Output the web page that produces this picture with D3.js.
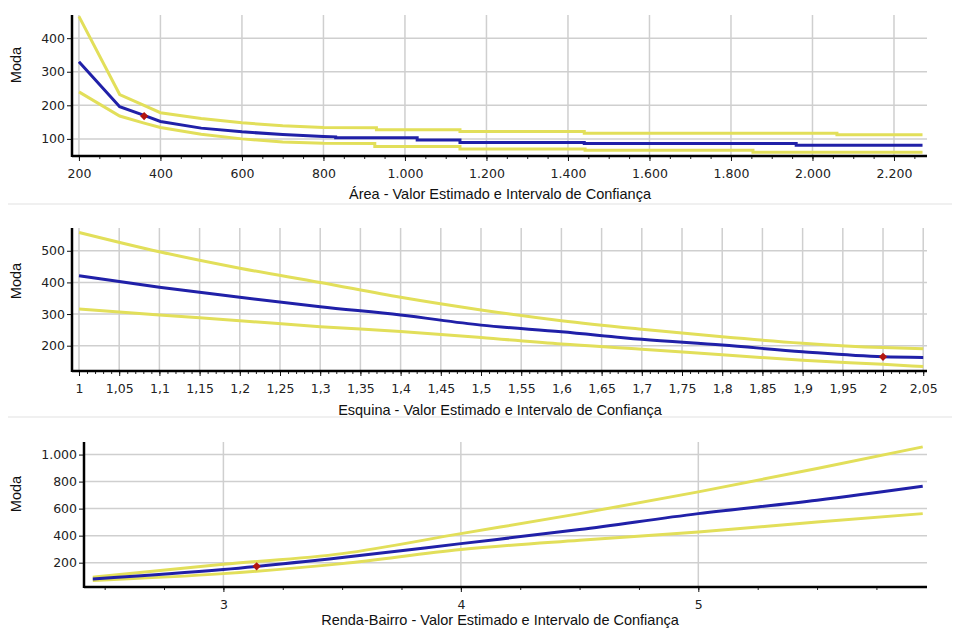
<!DOCTYPE html>
<html>
<head>
<meta charset="utf-8">
<script src="https://cdn.jsdelivr.net/npm/d3@7"></script>
<style>
  body { margin: 0; background: #fff; }
  svg { display: block; }
  .tick-label { font-family: "DejaVu Sans", sans-serif; font-size: 12.5px; fill: #222; }
  .axis-title { font-family: "Liberation Sans", Arial, sans-serif; font-size: 14.5px; fill: #111; }
</style>
</head>
<body>
<div id="chart"></div>
<script>
// Area panel (step lines)
const areaUpper = [[200,465],[300,232],[350,205],[400,178],[500,161],[600,148],[700,139],[800,134],[930,133],[930,127],[1135,127],[1135,122],[1440,122],[1440,117],[2060,117],[2060,112],[2270,112]];
const areaMid = [[200,330],[300,196],[360,170],[400,152],[500,132],[600,121],[700,113],[800,107],[830,106],[830,103],[1030,103],[1030,97],[1135,97],[1135,89],[1440,89],[1440,86],[1960,86],[1960,81],[2270,81]];
const areaLow = [[200,240],[300,168],[360,147],[400,134],[500,114],[600,100],[700,91],[800,87],[926,86],[926,77],[1135,77],[1135,70],[1442,70],[1442,66],[1854,66],[1854,60],[2270,60]];
const areaPoint = [360, 168];
const areaXTicks = d3.range(200, 2201, 200);
const areaYTicks = [100, 200, 300, 400];

// Esquina panel
const esqX = [1, 1.1, 1.2, 1.3, 1.4, 1.5, 1.6, 1.7, 1.8, 1.9, 2.0, 2.05];
const esqUpper = [558, 497, 445, 400, 353, 313, 279, 252, 228, 208, 194, 190];
const esqMid = [421, 385, 353, 323, 297, 265, 244, 220, 202, 181, 165, 163];
const esqLow = [316, 297, 279, 260, 245, 226, 205, 189, 171, 154, 141, 134];
const esqPoint = [2, 165];
const esqXTicks = d3.range(0, 22).map(i => 1 + i * 0.05);
const esqYTicks = [200, 300, 400, 500];

// Renda-Bairro panel
const rendaX = [2.45, 3, 3.5, 4, 4.5, 5, 5.5, 5.945];
const rendaUpper = [92, 188, 267, 415, 563, 724, 897, 1057];
const rendaMid = [80, 149, 238, 341, 445, 563, 662, 766];
const rendaLow = [68, 119, 193, 297, 366, 427, 501, 563];
const rendaPoint = [3.14, 173];
const rendaXTicks = [3, 4, 5];
const rendaYTicks = [200, 400, 600, 800, 1000];

const width = 960, height = 629;
const yellow = "#e2df5a", blue = "#2020a8";

const svg = d3.select("#chart").append("svg")
  .attr("width", width)
  .attr("height", height);

// light separators between the panels
[204, 417].forEach(y => {
  svg.append("line")
    .attr("x1", 8).attr("x2", 952).attr("y1", y).attr("y2", y)
    .attr("stroke", "#ebebeb").attr("stroke-width", 1.5);
});

const fmtThousand = d3.formatLocale({decimal: ",", thousands: ".", grouping: [3], currency: ["", ""]});
const fmtInt = fmtThousand.format(",d");
const fmtComma = v => String(+v.toFixed(2)).replace(".", ",");

function panel(opt) {
  const x = d3.scaleLinear().domain(opt.xDomain).range([opt.left, opt.right]);
  const y = d3.scaleLinear().domain(opt.yDomain).range([opt.bottom, opt.top]);
  const g = svg.append("g");

  // grid
  g.selectAll(".hgrid").data(opt.yTicks).join("line")
    .attr("x1", opt.left).attr("x2", opt.right)
    .attr("y1", d => y(d)).attr("y2", d => y(d))
    .attr("stroke", "#cfcfcf").attr("stroke-width", 1.5);
  g.selectAll(".vgrid").data(opt.xTicks).join("line")
    .attr("x1", d => x(d)).attr("x2", d => x(d))
    .attr("y1", opt.top).attr("y2", opt.bottom)
    .attr("stroke", "#cfcfcf").attr("stroke-width", 1.5);

  // series
  const line = d3.line().x(d => x(d[0])).y(d => y(d[1])).curve(opt.curve);
  [[opt.upper, yellow], [opt.low, yellow], [opt.mid, blue]].forEach(([s, c]) => {
    g.append("path").datum(s)
      .attr("d", line)
      .attr("fill", "none")
      .attr("stroke", c)
      .attr("stroke-width", 3);
  });

  // estimated point (small diamond)
  g.append("path")
    .attr("d", d3.symbol(d3.symbolSquare, 34)())
    .attr("transform", `translate(${x(opt.point[0])},${y(opt.point[1])}) rotate(45)`)
    .attr("fill", "#b3150f");

  // x axis
  g.append("g")
    .attr("transform", `translate(0,${opt.bottom})`)
    .call(d3.axisBottom(x).tickValues(opt.minor).tickSize(3).tickFormat(""))
    .call(a => a.select(".domain").remove())
    .selectAll("line").attr("stroke", "#222");
  const xa = g.append("g")
    .attr("transform", `translate(0,${opt.bottom})`)
    .call(d3.axisBottom(x).tickValues(opt.xTicks).tickSize(5).tickPadding(8).tickFormat(opt.xFormat));
  xa.select(".domain").remove();
  xa.selectAll("text").attr("class", "tick-label");
  xa.selectAll("line").attr("stroke", "#111");

  // y axis
  const ya = g.append("g")
    .attr("transform", `translate(${opt.left},0)`)
    .call(d3.axisLeft(y).tickValues(opt.yTicks).tickSize(5).tickPadding(2).tickFormat(fmtInt));
  ya.select(".domain").remove();
  ya.selectAll("text").attr("class", "tick-label");
  ya.selectAll("line").attr("stroke", "#111");

  // axis lines
  g.append("line").attr("x1", opt.left).attr("x2", opt.left)
    .attr("y1", opt.top).attr("y2", opt.bottom + 1)
    .attr("stroke", "#000").attr("stroke-width", 2.5);
  g.append("line").attr("x1", opt.left).attr("x2", opt.right)
    .attr("y1", opt.bottom).attr("y2", opt.bottom)
    .attr("stroke", "#000").attr("stroke-width", 2.5);

  // titles
  g.append("text").attr("class", "axis-title")
    .attr("x", 500).attr("y", opt.titleY)
    .attr("text-anchor", "middle")
    .text(opt.title);
  g.append("text").attr("class", "axis-title")
    .attr("transform", `translate(${opt.modaX},${opt.modaY}) rotate(-90)`)
    .attr("text-anchor", "middle")
    .text("Moda");
}

panel({
  left: 72, right: 927, top: 15, bottom: 156,
  xDomain: [183, 2281], yDomain: [49, 469],
  xTicks: areaXTicks, yTicks: areaYTicks,
  minor: d3.range(200, 2281, 50),
  xFormat: fmtInt,
  upper: areaUpper, mid: areaMid, low: areaLow, point: areaPoint,
  curve: d3.curveLinear,
  title: "Área - Valor Estimado e Intervalo de Confiança", titleY: 199,
  modaX: 21, modaY: 65
});

panel({
  left: 72, right: 927, top: 228, bottom: 371,
  xDomain: [0.9913, 2.0547], yDomain: [120, 572],
  xTicks: esqXTicks, yTicks: esqYTicks,
  minor: d3.range(0, 106).map(i => 1 + i * 0.01),
  xFormat: fmtComma,
  upper: esqX.map((v, i) => [v, esqUpper[i]]),
  mid: esqX.map((v, i) => [v, esqMid[i]]),
  low: esqX.map((v, i) => [v, esqLow[i]]),
  point: esqPoint,
  curve: d3.curveMonotoneX,
  title: "Esquina - Valor Estimado e Intervalo de Confiança", titleY: 415,
  modaX: 21, modaY: 281
});

panel({
  left: 84, right: 927, top: 442, bottom: 587,
  xDomain: [2.413, 5.963], yDomain: [20, 1093],
  xTicks: rendaXTicks, yTicks: rendaYTicks,
  minor: d3.range(10, 24).map(i => i * 0.25),
  xFormat: d => String(d),
  upper: rendaX.map((v, i) => [v, rendaUpper[i]]),
  mid: rendaX.map((v, i) => [v, rendaMid[i]]),
  low: rendaX.map((v, i) => [v, rendaLow[i]]),
  point: rendaPoint,
  curve: d3.curveMonotoneX,
  title: "Renda-Bairro - Valor Estimado e Intervalo de Confiança", titleY: 625,
  modaX: 21, modaY: 494
});
</script>
</body>
</html>
